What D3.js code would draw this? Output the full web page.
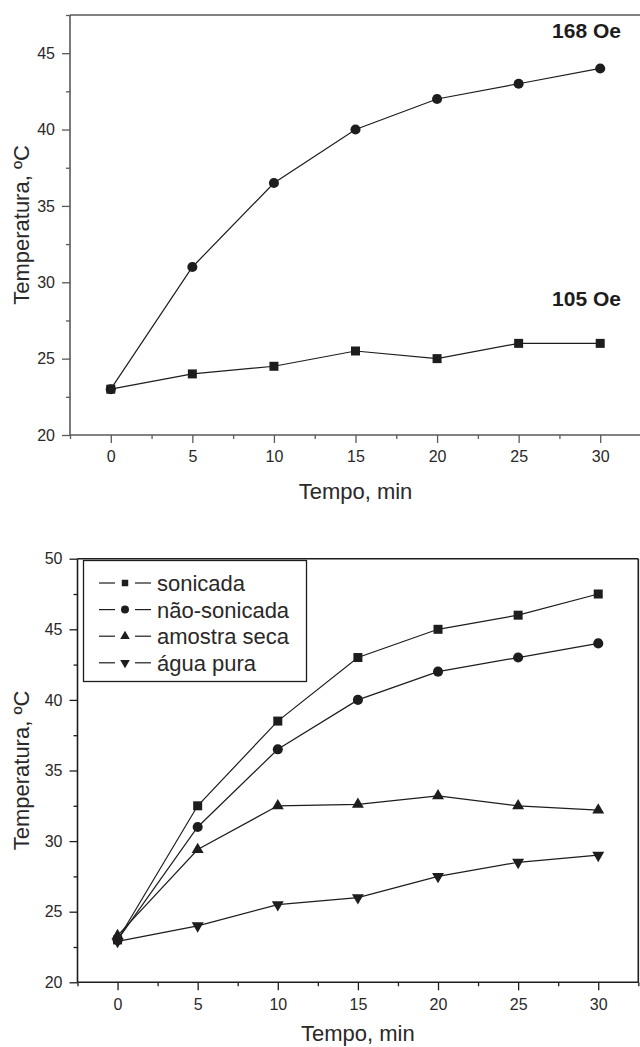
<!DOCTYPE html>
<html><head><meta charset="utf-8">
<script src="https://cdn.jsdelivr.net/npm/d3@7"></script>
<style>body{margin:0;background:#fff}svg{display:block}</style>
</head><body><svg id="c" width="640" height="1047"></svg>
<script>
// ---- data ----
const tempo = [0, 5, 10, 15, 20, 25, 30];
const campo168 = [23, 31, 36.5, 40, 42, 43, 44];
const campo105 = [23, 24, 24.5, 25.5, 25, 26, 26];
const sonicada = [23, 32.5, 38.5, 43, 45, 46, 47.5];
const naoSonicada = [23, 31, 36.5, 40, 42, 43, 44];
const amostraSeca = [23.3, 29.4, 32.5, 32.6, 33.2, 32.5, 32.2];
const aguaPura = [22.9, 24, 25.5, 26, 27.5, 28.5, 29];
const xTicks = [0, 5, 10, 15, 20, 25, 30];
const xMinor = [-2.5, 2.5, 7.5, 12.5, 17.5, 22.5, 27.5, 32.5];
const yTicksTop = [20, 25, 30, 35, 40, 45];
const yMinorTop = [22.5, 27.5, 32.5, 37.5, 42.5, 47.5];
const yTicksBot = [20, 25, 30, 35, 40, 45, 50];
const yMinorBot = [22.5, 27.5, 32.5, 37.5, 42.5, 47.5];
const legendNames = ["sonicada", "não-sonicada", "amostra seca", "água pura"];
const annotTop = ["168 Oe", "105 Oe"];

const FONT = "'Liberation Sans', Arial, sans-serif";
const svg = d3.select("#c");
const ink = "#1e1c1c";

function symbolPath(kind, size) {
  const types = {sq: d3.symbolSquare, ci: d3.symbolCircle, up: d3.symbolTriangle, dn: d3.symbolTriangle};
  return d3.symbol().type(types[kind]).size(size)();
}

function panel(opt) {
  const {x0, x1, y0, y1, ydom, yMajor, yMinor, axisColor, box, titleOff} = opt;
  const g = svg.append("g");
  const x = d3.scaleLinear().domain([-2.5, 32.5]).range([x0, x1]);
  const y = d3.scaleLinear().domain(ydom).range([y1, y0]);

  const xa = d3.axisBottom(x).tickValues(xMinor).tickSize(4).tickFormat("");
  g.append("g").attr("transform", `translate(0,${y1})`).call(xa);
  const ya = d3.axisLeft(y).tickValues(yMinor).tickSize(4).tickFormat("");
  g.append("g").attr("transform", `translate(${x0},0)`).call(ya);
  const xb = d3.axisBottom(x).tickValues(xTicks).tickSize(8).tickPadding(8).tickFormat(d3.format("d"));
  g.append("g").attr("transform", `translate(0,${y1})`).call(xb);
  const yb = d3.axisLeft(y).tickValues(yMajor).tickSize(8).tickPadding(7).tickFormat(d3.format("d"));
  g.append("g").attr("transform", `translate(${x0},0)`).call(yb);

  g.selectAll(".domain").remove();
  g.selectAll(".tick line").attr("stroke", axisColor).attr("stroke-width", 1.3);
  g.selectAll(".tick text").attr("fill", "#2a2828").style("font-family", FONT).style("font-size", "16px");

  const fr = g.append("g").attr("stroke", axisColor).attr("stroke-width", 1.6).attr("fill", "none");
  fr.append("line").attr("x1", x0).attr("x2", x0).attr("y1", y0).attr("y2", y1);
  fr.append("line").attr("x1", x0).attr("x2", x1).attr("y1", y1).attr("y2", y1);
  fr.append("line").attr("x1", x0).attr("x2", x1).attr("y1", y0).attr("y2", y0);
  if (box) fr.append("line").attr("x1", x1).attr("x2", x1).attr("y1", y0).attr("y2", y1);

  g.append("text").attr("x", (x(0) + x(30)) / 2).attr("y", y1 + titleOff)
    .attr("text-anchor", "middle").attr("fill", "#2a2828")
    .style("font-family", FONT).style("font-size", "22px").text("Tempo, min");
  g.append("text").attr("transform", `translate(29,${(y0 + y1) / 2}) rotate(-90)`)
    .attr("text-anchor", "middle").attr("fill", "#2a2828")
    .style("font-family", FONT).style("font-size", "22px").text("Temperatura, ºC");
  return {g, x, y};
}

function series(p, vals, kind, size) {
  const pts = tempo.map((t, i) => [p.x(t), p.y(vals[i])]);
  p.g.append("path").attr("d", d3.line()(pts)).attr("fill", "none")
    .attr("stroke", ink).attr("stroke-width", 1.2);
  p.g.selectAll(null).data(pts).join("path")
    .attr("d", symbolPath(kind, size))
    .attr("transform", d => `translate(${d[0]},${d[1]})` + (kind === "dn" ? " rotate(180)" : ""))
    .attr("fill", ink);
}

// ---- top panel ----
const pt = panel({x0: 70, x1: 641, y0: 15, y1: 435, ydom: [20, 47.5],
  yMajor: yTicksTop, yMinor: yMinorTop, axisColor: "#5a5858", box: false, titleOff: 64});
series(pt, campo105, "sq", 81);
series(pt, campo168, "ci", 80);
pt.g.append("text").attr("x", 621).attr("y", 38).attr("text-anchor", "end")
  .attr("fill", ink).style("font-family", FONT).style("font-size", "21px").style("font-weight", "bold")
  .text(annotTop[0]);
pt.g.append("text").attr("x", 621).attr("y", 306).attr("text-anchor", "end")
  .attr("fill", ink).style("font-family", FONT).style("font-size", "21px").style("font-weight", "bold")
  .text(annotTop[1]);

// ---- bottom panel ----
const pb = panel({x0: 77.5, x1: 638.3, y0: 558.7, y1: 982.3, ydom: [20, 50],
  yMajor: yTicksBot, yMinor: yMinorBot, axisColor: "#1e1c1c", box: true, titleOff: 59});
const botSeries = [
  [sonicada, "sq", 81],
  [naoSonicada, "ci", 80],
  [amostraSeca, "up", 62],
  [aguaPura, "dn", 62]
];
botSeries.forEach(s => series(pb, s[0], s[1], s[2]));

// legend
const lg = pb.g.append("g");
lg.append("rect").attr("x", 83.5).attr("y", 560.5).attr("width", 223).attr("height", 121)
  .attr("fill", "#fff").attr("stroke", ink).attr("stroke-width", 1.3);
const legSizes = [42, 50, 40, 40];
legendNames.forEach((name, i) => {
  const cy = 583 + i * 26.6;
  lg.append("line").attr("x1", 99).attr("x2", 115).attr("y1", cy).attr("y2", cy).attr("stroke", ink).attr("stroke-width", 1.2);
  lg.append("line").attr("x1", 135).attr("x2", 151).attr("y1", cy).attr("y2", cy).attr("stroke", ink).attr("stroke-width", 1.2);
  const k = botSeries[i][1];
  lg.append("path").attr("d", symbolPath(k, legSizes[i]))
    .attr("transform", `translate(125,${cy})` + (k === "dn" ? " rotate(180)" : ""))
    .attr("fill", ink);
  lg.append("text").attr("x", 157).attr("y", cy + 8).attr("fill", "#2a2828")
    .style("font-family", FONT).style("font-size", "22px").text(name);
});
</script></body></html>
